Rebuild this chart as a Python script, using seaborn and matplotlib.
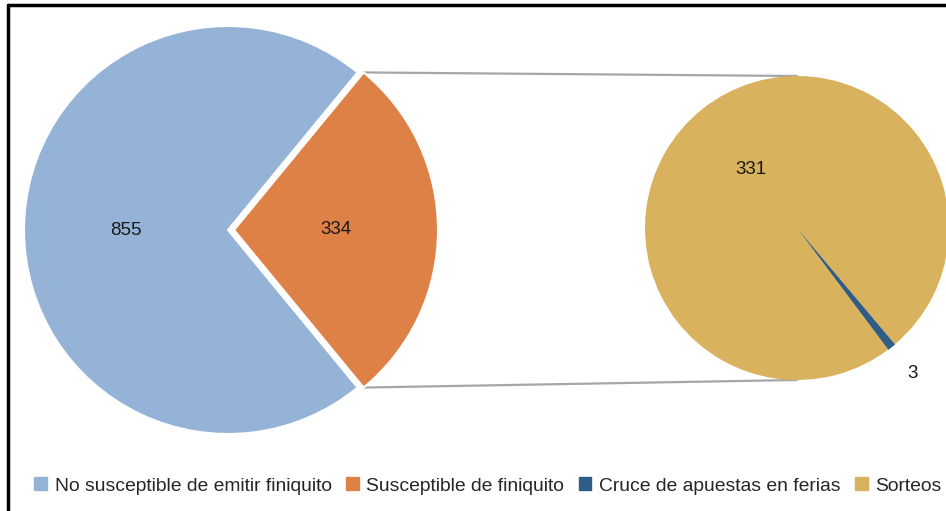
import numpy as np
import matplotlib
matplotlib.use("Agg")
import matplotlib.pyplot as plt
from matplotlib.patches import Patch
import seaborn as sns

# data
main_labels = ['No susceptible de emitir finiquito', 'Susceptible de finiquito']
main_values = [855, 334]
sub_labels = ['Cruce de apuestas en ferias', 'Sorteos']
sub_values = [3, 331]

main_colors = ['#95B3D7', '#DE8146']
sub_colors = ['#2F5D86', '#D9B25E']

sns.set_style("white")
plt.rcParams['font.family'] = ['Liberation Sans', 'DejaVu Sans']

fig = plt.figure(figsize=(9.46, 5.11), dpi=100)
ax = fig.add_axes([0, 0, 1, 1])

# left pie (pixel-like coordinates, y up)
c1 = (228, 281)
r1 = 204
start1 = 180 * main_values[1] / sum(main_values)
w1, t1 = ax.pie(main_values, colors=main_colors, center=c1, radius=r1,
                startangle=start1, explode=[0, 6],
                wedgeprops=dict(edgecolor='white', linewidth=1.5),
                frame=True)

# right pie
c2 = (797, 283)
r2 = 152
start2 = -51.5 - 180 * sub_values[0] / sum(sub_values)
w2, t2 = ax.pie(sub_values, colors=sub_colors, center=c2, radius=r2,
                startangle=start2,
                wedgeprops=dict(edgecolor=sub_colors[0], linewidth=0.4), frame=True)
w2[1].set_edgecolor('none')
ax.set_xlim(0, 946)
ax.set_ylim(0, 511)
ax.set_aspect('equal')
ax.axis('off')

# value labels
for w, v in zip(w1, main_values):
    th = np.deg2rad((w.theta1 + w.theta2) / 2)
    cx, cy = w.center
    ax.text(cx + 0.5 * r1 * np.cos(th), cy + 0.5 * r1 * np.sin(th), str(v),
            ha='center', va='center', fontsize=13.5, color='#1a1a1a')
for w, v, d in zip(w2, sub_values, [1.22, 0.49]):
    th = np.deg2rad((w.theta1 + w.theta2) / 2)
    cx, cy = w.center
    ax.text(cx + d * r2 * np.cos(th), cy + d * r2 * np.sin(th), str(v),
            ha='center', va='center', fontsize=13.5, color='#1a1a1a')

# connector lines from exploded wedge corners to the second pie
ow = w1[1]
ox, oy = ow.center
for ang, ty in [(ow.theta1, c2[1] - r2), (ow.theta2, c2[1] + r2)]:
    a = np.deg2rad(ang)
    ax.plot([ox + r1 * np.cos(a), c2[0]], [oy + r1 * np.sin(a), ty],
            color='#A6A6A6', lw=1.6, zorder=0)

# chart frame
ax.plot([8, 8], [0, 506], color='black', lw=2.5, clip_on=False)
ax.plot([8, 946], [506, 506], color='black', lw=2.5, clip_on=False)

handles = [Patch(color=c, label=l) for c, l in
           zip(main_colors + sub_colors, main_labels + sub_labels)]
fig.legend(handles=handles, loc='center', bbox_to_anchor=(488 / 946, 25 / 511),
           ncol=4, frameon=False, fontsize=13.9, handlelength=0.65, handleheight=0.65,
           handletextpad=0.4, columnspacing=0.75, borderpad=0)

fig.savefig('out.png', dpi=100)
